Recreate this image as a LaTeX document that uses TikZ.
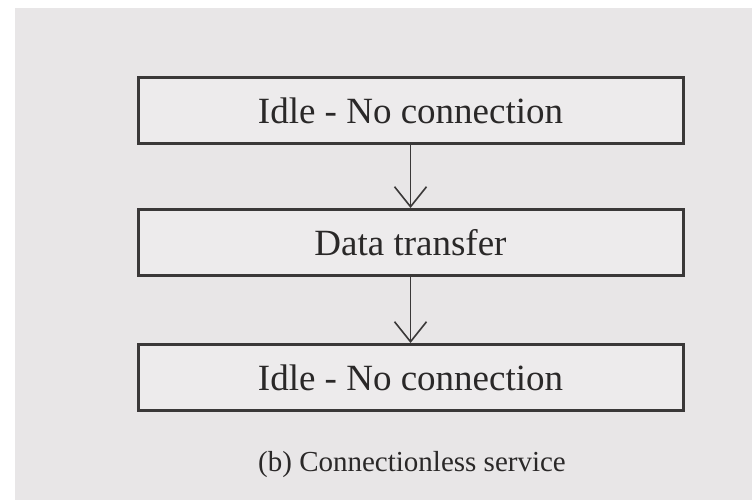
\documentclass[tikz,border=0pt]{standalone}
\usepackage{fontspec}
\setmainfont{Liberation Serif}
\usetikzlibrary{arrows.meta}
\definecolor{paper}{HTML}{E8E6E7}
\definecolor{boxfill}{HTML}{EDEBEC}
\definecolor{ink}{HTML}{3A3838}
\definecolor{textink}{HTML}{2A2828}
\tikzset{
  statebox/.style={draw=ink, line width=3pt, fill=boxfill, minimum width=545pt,
    minimum height=66pt, inner sep=0pt, text=textink,
    font=\fontsize{37}{41}\selectfont},
  flow/.style={draw=ink, line width=1.6pt,
    -{Straight Barb[length=20pt, width=32pt, line width=1.6pt]}},
  captiontext/.style={text=textink, inner sep=0pt, font=\fontsize{29}{33}\selectfont}
}
\begin{document}
\begin{tikzpicture}[x=1pt, y=-1pt]
  % page and scanned paper
  \fill[white] (0,0) rectangle (752,500);
  \fill[paper] (15,8) rectangle (752,500);
  \useasboundingbox (0,0) rectangle (752,500);

  % states
  \node[statebox] (idleA) at (410.5,111) {Idle - No connection};
  \node[statebox] (data)  at (410.5,242.5) {Data transfer};
  \node[statebox] (idleB) at (410.5,377.5) {Idle - No connection};

  % transitions
  \draw[flow] (idleA.south) -- (data.north);
  \draw[flow] (data.south) -- (idleB.north);

  % caption
  \node[captiontext] (cap) at (412,465) {(b) Connectionless service};
\end{tikzpicture}
\end{document}
